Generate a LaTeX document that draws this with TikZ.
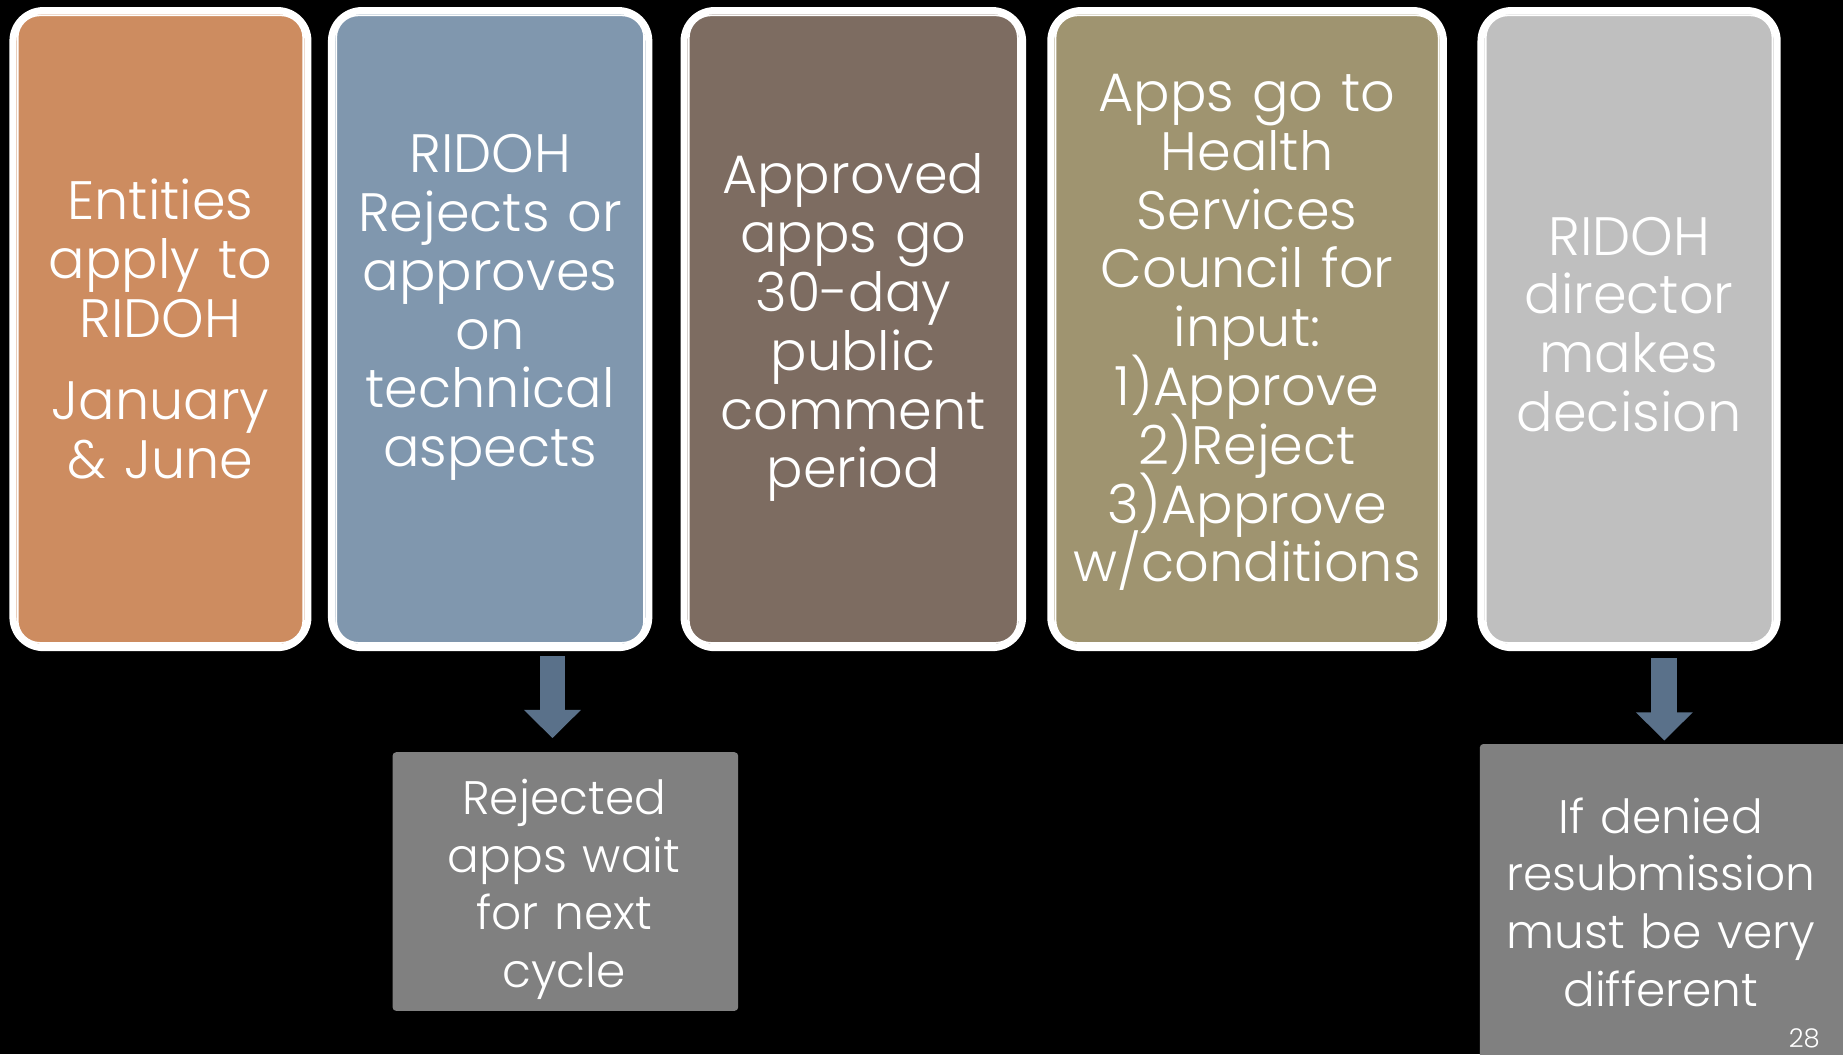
\documentclass[tikz,border=0pt]{standalone}
\usepackage{fontspec}
\setmainfont{Poppins}[UprightFont={* Light}]
\usetikzlibrary{arrows.meta}
\definecolor{corange}{RGB}{205,140,96}
\definecolor{cblue}{RGB}{128,151,174}
\definecolor{cbrown}{RGB}{125,108,97}
\definecolor{colive}{RGB}{159,148,112}
\definecolor{clgray}{RGB}{191,191,191}
\definecolor{cdgray}{RGB}{128,128,128}
\definecolor{carrow}{RGB}{90,113,138}
\begin{document}
\begin{tikzpicture}[x=1pt,y=1pt,
  stage/.style={draw=white, line width=6pt, rounded corners=26pt,
    minimum width=#1, minimum height=542pt, inner sep=0pt},
  innerline/.style={draw=white, line width=1.5pt, rounded corners=19pt},
  txt/.style={text=white, font=\fontsize{46}{50}\selectfont, align=center,
    text width=#1, anchor=base, inner sep=0pt,
    execute at begin node={\lineskiplimit=-60pt\relax}},
  small/.style={font=\fontsize{40}{49}\selectfont},
  note/.style={fill=cdgray, rounded corners=3pt, inner sep=0pt},
  blockarrow/.style={draw=carrow, line width=22pt, -{Triangle[width=47pt,length=24pt]}}
]
\useasboundingbox (0,0) rectangle (1568,897);
\fill[black] (0,0) rectangle (1568,897);
\begin{scope}
\clip (0,0) rectangle (1568,897);
% stages
\node[stage=251pt, fill=corange] (b1) at (136.5,617) {};
\node[stage=270pt, fill=cblue] (b2) at (417,617) {};
\node[stage=288pt, fill=cbrown] (b3) at (726,617) {};
\node[stage=334pt, fill=colive] (b4) at (1061,617) {};
\node[stage=252pt, fill=clgray] (b5) at (1386,617) {};
\foreach \b in {b1,b2,b3,b4,b5}{
  \draw[innerline] ([shift={(7,7)}]\b.south west) rectangle ([shift={(-7,-7)}]\b.north east);
}
% note boxes
\node[note, minimum width=294pt, minimum height=220pt] (g1) at (481,147) {};
\node[note, minimum width=330pt, minimum height=290pt] (g2) at (1424,119) {};
% arrows
\coordinate (a1s) at (470,339);
\coordinate (a1e) at (470,269);
\coordinate (a2s) at (1416,337);
\coordinate (a2e) at (1416,267);
\draw[blockarrow] (a1s) -- (a1e);
\draw[blockarrow] (a2s) -- (a2e);
% texts
\node[txt=251pt] (t1) at (136.5,710) {Entities\\apply to\\RIDOH\\[20pt]January\\\& June};
\node[txt=270pt] (t2) at (417,750) {RIDOH\\Rejects or\\approves\\on\\technical\\aspects};
\node[txt=288pt] (t3) at (726,732) {Approved\\apps go\\30-day\\public\\comment\\period};
\node[txt=334pt] (t4) at (1061,802) {Apps go to\\Health\\Services\\Council for\\input:\\1)Approve\\2)Reject\\3)Approve\\w/conditions};
\node[txt=252pt] (t5) at (1386,680) {RIDOH\\director\\makes\\decision};
\node[txt=294pt, small] (tg1) at (480,204) {Rejected\\apps wait\\for next\\cycle};
\node[txt=330pt, small] (tg2) at (1413,188) {If denied\\resubmission\\must be very\\different};
\node[text=white, font=\fontsize{22}{24}\selectfont, anchor=base, inner sep=0pt] (pg) at (1535,6) {28};
\end{scope}
\end{tikzpicture}
\end{document}
